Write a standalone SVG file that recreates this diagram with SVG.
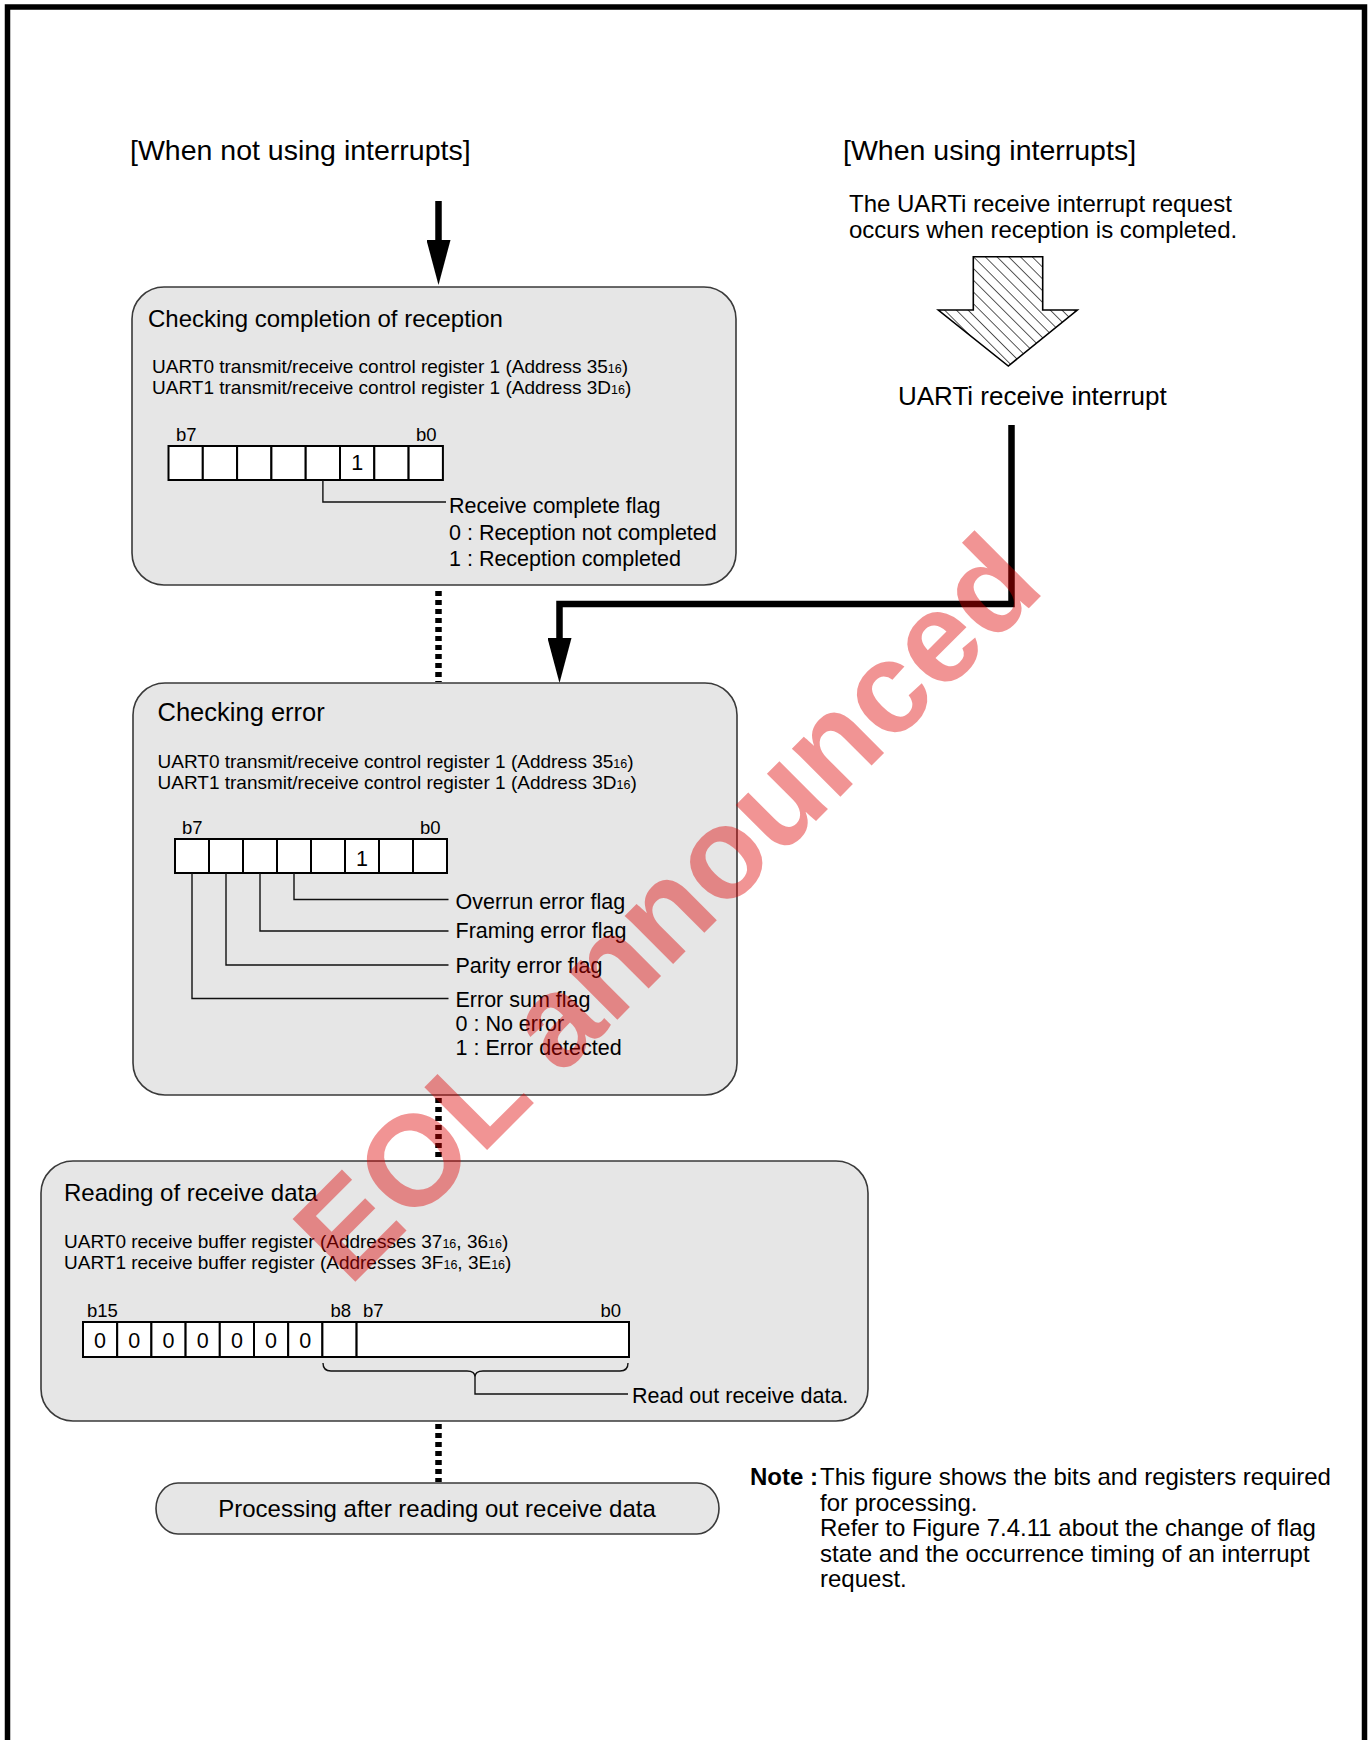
<svg xmlns="http://www.w3.org/2000/svg" width="1371" height="1740" viewBox="0 0 1371 1740">
<defs>
<style>
text{font-family:"Liberation Sans",Arial,Helvetica,sans-serif;fill:#000}
.h{font-size:28.5px}
.t24{font-size:24px}
.t26{font-size:25.5px}
.reg{font-size:19px}
.sub{font-size:12.5px}
.bl{font-size:18.5px}
.fl{font-size:21.5px}
.box{fill:#e6e6e6;stroke:#3a3a3a;stroke-width:1.6}
.cell{fill:#fff;stroke:#000;stroke-width:2}
.lead{fill:none;stroke:#111;stroke-width:1.4}
.thick{fill:none;stroke:#000;stroke-width:6.5}
.dot{fill:none;stroke:#000;stroke-width:6.5;stroke-dasharray:5 4}
.wm{font-size:129px;font-weight:bold;fill:#dd0000;fill-opacity:0.42}
</style>
<marker id="head" viewBox="0 0 45 24" refX="0" refY="12" markerWidth="45" markerHeight="24" markerUnits="userSpaceOnUse" orient="auto">
<path d="M0,0 L45,12 L0,24 Z" fill="#000"/>
</marker>
<pattern id="hatch" width="8.3" height="8.3" patternUnits="userSpaceOnUse" patternTransform="rotate(-45)">
<line x1="0" y1="0" x2="0" y2="8.3" stroke="#000" stroke-width="1.3"/>
</pattern>
</defs>

<!-- page frame (open at the bottom) -->
<path d="M7.5,1745 V7 H1364.5 V1745" fill="none" stroke="#000" stroke-width="5.5"/>

<!-- column headings -->
<g id="heading-polling">
<text class="h" x="130" y="160">[When not using interrupts]</text>
</g>
<g id="heading-interrupt">
<text class="h" x="843" y="160">[When using interrupts]</text>
<text class="t24" x="849" y="212">The UARTi receive interrupt request</text>
<text class="t24" x="849" y="238">occurs when reception is completed.</text>
</g>

<!-- hatched block arrow -->
<g id="interrupt-request">
<polygon points="973.3,256.7 1042.7,256.7 1042.7,310 1077.3,310 1008.3,366 938.3,310 973.3,310" fill="#fff"/>
<polygon points="973.3,256.7 1042.7,256.7 1042.7,310 1077.3,310 1008.3,366 938.3,310 973.3,310" fill="url(#hatch)" stroke="#000" stroke-width="1.6"/>
</g>
<g id="receive-interrupt">
<text x="898" y="405" style="font-size:26px">UARTi receive interrupt</text>
</g>

<!-- connectors -->
<g id="connectors">
<path class="thick" d="M438.5,201 V240" marker-end="url(#head)"/>
<path class="thick" d="M1011.5,425 V604 H559.5 V638" marker-end="url(#head)"/>
<path class="dot" d="M438.5,591 V682"/>
<path class="dot" d="M438.5,1098 V1160"/>
<path class="dot" d="M438.5,1424 V1482"/>
</g>

<!-- step 1: receive complete flag -->
<g id="check-completion">
<rect class="box" x="132" y="287" width="604" height="298" rx="32" ry="32"/>
<text class="t24" x="148" y="327">Checking completion of reception</text>
<text class="reg" x="152" y="373">UART0 transmit/receive control register 1 (Address 35<tspan class="sub">16</tspan>)</text>
<text class="reg" x="152" y="394">UART1 transmit/receive control register 1 (Address 3D<tspan class="sub">16</tspan>)</text>
<text class="bl" x="176" y="441">b7</text>
<text class="bl" x="416" y="441">b0</text>
<rect class="cell" x="168.5" y="446" width="34.3" height="34"/>
<rect class="cell" x="202.8" y="446" width="34.3" height="34"/>
<rect class="cell" x="237.1" y="446" width="34.3" height="34"/>
<rect class="cell" x="271.4" y="446" width="34.3" height="34"/>
<rect class="cell" x="305.7" y="446" width="34.3" height="34"/>
<rect class="cell" x="340" y="446" width="34.3" height="34"/>
<rect class="cell" x="374.3" y="446" width="34.3" height="34"/>
<rect class="cell" x="408.6" y="446" width="34.3" height="34"/>
<text class="fl" x="357.2" y="470" text-anchor="middle">1</text>
<path class="lead" d="M322.9,480 V502 H446"/>
<text class="fl" x="449" y="513">Receive complete flag</text>
<text class="fl" x="449" y="539.5">0 : Reception not completed</text>
<text class="fl" x="449" y="566">1 : Reception completed</text>
</g>

<!-- step 2: error flags -->
<g id="check-error">
<rect class="box" x="133" y="683" width="604" height="412" rx="32" ry="32"/>
<text class="t26" x="157.5" y="721">Checking error</text>
<text class="reg" x="157.5" y="768">UART0 transmit/receive control register 1 (Address 35<tspan class="sub">16</tspan>)</text>
<text class="reg" x="157.5" y="789">UART1 transmit/receive control register 1 (Address 3D<tspan class="sub">16</tspan>)</text>
<text class="bl" x="182" y="834">b7</text>
<text class="bl" x="420" y="834">b0</text>
<rect class="cell" x="175" y="839" width="34" height="34"/>
<rect class="cell" x="209" y="839" width="34" height="34"/>
<rect class="cell" x="243" y="839" width="34" height="34"/>
<rect class="cell" x="277" y="839" width="34" height="34"/>
<rect class="cell" x="311" y="839" width="34" height="34"/>
<rect class="cell" x="345" y="839" width="34" height="34"/>
<rect class="cell" x="379" y="839" width="34" height="34"/>
<rect class="cell" x="413" y="839" width="34" height="34"/>
<text class="fl" x="362" y="866" text-anchor="middle">1</text>
<path class="lead" d="M294,873 V899.5 H448.5"/>
<path class="lead" d="M260,873 V931 H448.5"/>
<path class="lead" d="M226,873 V965 H448.5"/>
<path class="lead" d="M192,873 V998.5 H448.5"/>
<text class="fl" x="455.5" y="909">Overrun error flag</text>
<text class="fl" x="455.5" y="937.5">Framing error flag</text>
<text class="fl" x="455.5" y="973">Parity error flag</text>
<text class="fl" x="455.5" y="1006.5">Error sum flag</text>
<text class="fl" x="455.5" y="1031">0 : No error</text>
<text class="fl" x="455.5" y="1055">1 : Error detected</text>
</g>

<!-- step 3: receive buffer -->
<g id="read-data">
<rect class="box" x="41" y="1161" width="827" height="260" rx="32" ry="32"/>
<text class="t24" x="64" y="1201">Reading of receive data</text>
<text class="reg" x="64" y="1248">UART0 receive buffer register (Addresses 37<tspan class="sub">16</tspan>, 36<tspan class="sub">16</tspan>)</text>
<text class="reg" x="64" y="1269">UART1 receive buffer register (Addresses 3F<tspan class="sub">16</tspan>, 3E<tspan class="sub">16</tspan>)</text>
<text class="bl" x="87" y="1317">b15</text>
<text class="bl" x="330.5" y="1317">b8</text>
<text class="bl" x="363" y="1317">b7</text>
<text class="bl" x="600.5" y="1317">b0</text>
<rect class="cell" x="83" y="1322" width="34.2" height="35"/>
<rect class="cell" x="117.2" y="1322" width="34.2" height="35"/>
<rect class="cell" x="151.4" y="1322" width="34.2" height="35"/>
<rect class="cell" x="185.6" y="1322" width="34.2" height="35"/>
<rect class="cell" x="219.8" y="1322" width="34.2" height="35"/>
<rect class="cell" x="254" y="1322" width="34.2" height="35"/>
<rect class="cell" x="288.2" y="1322" width="34.2" height="35"/>
<rect class="cell" x="322.4" y="1322" width="34.2" height="35"/>
<rect class="cell" x="356.6" y="1322" width="272.4" height="35"/>
<g class="fl" text-anchor="middle">
<text class="fl" x="100.1" y="1348">0</text>
<text class="fl" x="134.3" y="1348">0</text>
<text class="fl" x="168.5" y="1348">0</text>
<text class="fl" x="202.7" y="1348">0</text>
<text class="fl" x="236.9" y="1348">0</text>
<text class="fl" x="271.1" y="1348">0</text>
<text class="fl" x="305.3" y="1348">0</text>
</g>
<path class="lead" d="M323,1363 Q323,1371 331,1371 H467 Q475,1371 475,1377 Q475,1371 483,1371 H620 Q628,1371 628,1363"/>
<path class="lead" d="M475,1377 V1394 H628"/>
<text class="fl" x="632" y="1403">Read out receive data.</text>
</g>

<!-- step 4 -->
<g id="after-read">
<rect class="box" x="156" y="1483" width="563" height="51" rx="22" ry="25.5"/>
<text class="t24" x="437" y="1517" text-anchor="middle">Processing after reading out receive data</text>
</g>

<!-- note -->
<g id="note">
<text class="t24" x="750" y="1485" style="font-weight:bold">Note :</text>
<text class="t24" x="820" y="1485">This figure shows the bits and registers required</text>
<text class="t24" x="820" y="1510.5">for processing.</text>
<text class="t24" x="820" y="1536">Refer to Figure 7.4.11 about the change of flag</text>
<text class="t24" x="820" y="1561.5">state and the occurrence timing of an interrupt</text>
<text class="t24" x="820" y="1587">request.</text>
</g>

<!-- status stamp across the page -->
<text class="wm" transform="translate(698,939) rotate(-45)" text-anchor="middle">EOL announced</text>
</svg>
